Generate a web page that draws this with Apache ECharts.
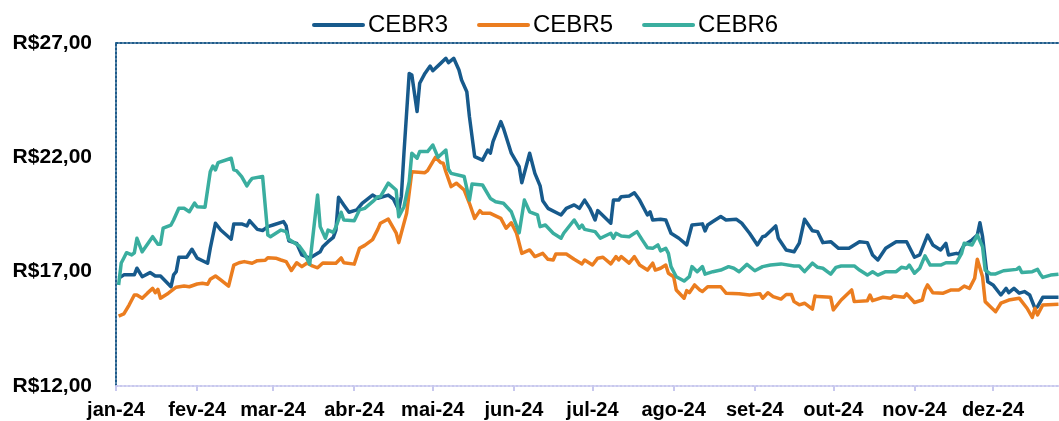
<!DOCTYPE html>
<html>
<head>
<meta charset="utf-8">
<script src="https://cdn.jsdelivr.net/npm/echarts@6/dist/echarts.min.js"></script>
<style>
  html, body { margin: 0; padding: 0; background: #fff; }
  #chart { width: 1059px; height: 421px; }
</style>
</head>
<body>
<div id="chart"></div>
<script>
// dias contados a partir de 1/jan/2024, preco de fechamento (R$)
let seriesNames = ['CEBR3', 'CEBR5', 'CEBR6'];
let monthLabels = ['jan-24','fev-24','mar-24','abr-24','mai-24','jun-24','jul-24','ago-24','set-24','out-24','nov-24','dez-24'];
let yTicks = [12, 17, 22, 27];

let cebr3 = [[1,16.71],[3,16.86],[7,16.86],[8,17.15],[10,16.78],[13,16.96],[15,16.81],[17,16.81],[21,16.34],[22,16.86],[23,17.0],[24,17.63],[27,17.63],[29,17.98],[31,17.59],[35,17.37],[36,18.02],[38,19.12],[40,18.82],[44,18.42],[45,19.09],[48,19.09],[50,19.0],[51,19.23],[54,18.85],[56,18.8],[58,18.97],[60,19.04],[64,19.19],[65,19.0],[66,18.35],[69,18.24],[71,17.73],[74,17.59],[75,17.66],[78,17.87],[79,18.09],[81,18.31],[83,18.5],[84,18.82],[85,20.25],[87,19.92],[89,19.6],[92,19.7],[94,19.99],[98,20.35],[100,20.21],[104,20.35],[106,20.17],[108,19.7],[109,20.3],[110,22.2],[112,25.67],[113,25.6],[115,24.0],[116,25.24],[118,25.67],[120,25.99],[121,25.79],[124,26.11],[126,26.33],[127,26.14],[129,26.33],[131,25.82],[132,25.38],[134,24.87],[135,23.78],[137,22.03],[140,21.88],[142,22.32],[143,22.18],[144,22.69],[147,23.56],[148,23.27],[151,22.18],[154,21.59],[155,20.89],[158,22.18],[160,21.3],[162,20.75],[163,20.1],[165,19.77],[170,19.48],[172,19.77],[175,19.92],[177,19.77],[179,20.13],[181,19.77],[183,19.26],[184,19.67],[189,19.12],[190,20.13],[192,20.13],[193,20.28],[196,20.31],[198,20.45],[200,20.13],[203,19.48],[204,19.62],[205,19.26],[208,19.29],[210,19.26],[212,18.68],[215,18.46],[218,18.17],[220,19.04],[224,19.09],[225,18.78],[226,19.04],[228,19.19],[231,19.41],[233,19.26],[237,19.29],[239,19.12],[242,18.68],[245,18.17],[247,18.53],[248,18.56],[252,19.0],[253,18.46],[256,17.95],[259,17.87],[261,18.25],[263,19.29],[266,18.79],[268,18.75],[270,18.27],[273,18.31],[276,18.02],[280,18.02],[284,18.31],[287,18.27],[289,17.73],[291,17.51],[294,18.02],[298,18.31],[302,18.31],[305,17.63],[307,17.73],[310,18.6],[312,18.17],[315,17.95],[317,18.24],[318,17.73],[321,17.8],[322,17.77],[324,18.17],[327,18.39],[329,18.6],[330,19.14],[331,18.53],[333,16.56],[335,16.42],[338,15.98],[340,16.27],[341,16.08],[343,16.27],[345,16.06],[347,16.13],[349,15.98],[351,15.4],[352,15.47],[354,15.88],[360,15.88]];

let cebr5 = [[1,15.06],[3,15.15],[5,15.54],[7,15.98],[8,15.98],[10,15.84],[12,16.06],[14,16.27],[15,16.08],[16,16.23],[17,15.84],[20,16.06],[23,16.32],[26,16.37],[28,16.34],[31,16.46],[33,16.49],[35,16.45],[36,16.67],[38,16.81],[40,16.64],[43,16.37],[45,17.29],[47,17.39],[49,17.44],[52,17.37],[54,17.48],[57,17.5],[58,17.61],[61,17.59],[63,17.51],[65,17.44],[67,17.05],[69,17.39],[71,17.22],[73,17.38],[75,17.25],[77,17.17],[79,17.38],[84,17.37],[86,17.6],[87,17.39],[91,17.33],[93,18.02],[95,18.15],[98,18.4],[100,18.85],[101,19.12],[104,19.3],[107,18.7],[108,18.27],[111,19.55],[113,21.37],[118,21.33],[119,21.42],[122,22.0],[124,21.77],[125,21.74],[126,21.37],[128,20.72],[130,20.87],[133,20.57],[135,19.99],[137,19.33],[139,19.67],[140,19.55],[143,19.55],[147,19.33],[149,18.9],[151,19.14],[153,18.68],[155,17.8],[158,17.95],[160,17.66],[163,17.8],[165,17.54],[167,17.51],[168,17.77],[172,17.77],[175,17.54],[178,17.34],[179,17.51],[182,17.29],[184,17.59],[186,17.63],[189,17.34],[191,17.66],[192,17.51],[193,17.66],[196,17.37],[198,17.66],[200,17.29],[203,17.07],[205,17.37],[206,17.07],[208,17.15],[210,17.29],[211,16.93],[213,16.78],[214,16.2],[217,15.84],[218,16.17],[219,16.08],[221,16.42],[223,16.2],[224,16.13],[226,16.34],[231,16.34],[233,16.06],[238,16.03],[242,15.98],[246,16.03],[247,15.84],[249,16.08],[251,15.91],[254,15.8],[256,16.0],[258,16.0],[259,15.69],[261,15.55],[263,15.62],[266,15.36],[267,15.94],[268,15.91],[273,15.88],[274,15.33],[277,15.76],[281,16.2],[282,15.69],[287,15.73],[288,15.98],[289,15.73],[293,15.88],[296,15.84],[297,15.94],[301,15.88],[302,16.03],[305,15.65],[308,15.76],[309,16.2],[310,16.42],[312,16.08],[316,16.06],[319,16.2],[322,16.2],[324,16.37],[326,16.27],[328,16.71],[329,17.54],[331,16.78],[332,15.69],[334,15.47],[336,15.25],[338,15.62],[341,15.76],[345,15.84],[348,15.4],[350,15.0],[351,15.4],[352,15.11],[354,15.54],[360,15.57]];

let cebr6 = [[1,16.42],[2,17.38],[3,17.6],[4,17.83],[6,17.73],[7,17.82],[8,18.46],[10,17.87],[14,18.53],[16,18.2],[17,18.2],[18,18.9],[21,19.04],[22,19.26],[24,19.77],[26,19.77],[28,19.62],[30,20.0],[31,19.84],[34,19.82],[36,21.37],[37,21.62],[38,21.45],[39,21.77],[44,21.96],[45,21.45],[46,21.42],[48,21.16],[50,20.75],[51,20.94],[52,21.08],[56,21.16],[58,18.6],[59,18.53],[63,18.82],[65,18.75],[66,18.42],[70,18.12],[72,17.8],[74,17.33],[77,20.35],[78,18.97],[80,18.46],[81,18.82],[83,18.72],[84,18.95],[86,19.6],[87,19.26],[91,19.23],[93,19.7],[95,19.77],[98,20.06],[100,20.28],[101,20.28],[104,20.87],[107,20.57],[108,19.4],[110,19.84],[112,20.94],[113,22.18],[115,21.96],[116,22.25],[119,22.25],[121,22.54],[123,22.0],[126,22.32],[127,21.48],[128,21.3],[133,21.16],[135,20.13],[136,20.83],[140,20.79],[143,20.2],[145,20.06],[148,19.99],[151,19.62],[154,18.7],[156,20.13],[158,19.62],[161,19.48],[162,18.97],[164,19.04],[167,18.68],[170,18.46],[171,18.68],[175,19.26],[177,18.9],[178,19.04],[179,18.85],[183,18.75],[185,18.46],[189,18.68],[190,18.46],[191,18.68],[193,18.56],[196,18.53],[199,18.75],[201,18.39],[203,18.05],[205,18.02],[207,18.17],[208,17.91],[210,18.02],[211,17.8],[212,17.22],[214,16.78],[217,16.59],[219,16.78],[220,17.22],[222,17.0],[224,17.22],[225,16.89],[228,17.0],[231,17.07],[234,17.22],[236,17.15],[238,17.0],[241,17.32],[244,17.04],[247,17.22],[250,17.29],[254,17.34],[259,17.25],[261,17.25],[263,17.0],[266,17.37],[268,17.19],[270,17.15],[273,16.89],[275,17.19],[277,17.25],[282,17.25],[284,17.07],[287,16.85],[289,17.0],[291,16.85],[294,17.0],[298,17.0],[300,17.19],[302,17.15],[303,17.29],[305,16.93],[307,17.15],[309,17.69],[311,17.29],[315,17.29],[317,17.39],[321,17.39],[323,17.8],[324,18.24],[327,18.17],[329,18.6],[331,18.09],[332,17.07],[334,16.9],[336,16.9],[339,17.04],[344,17.1],[345,17.19],[346,16.96],[350,17.0],[352,17.1],[353,16.9],[354,16.75],[357,16.85],[360,16.89]];

let colors = ['#175A8C', '#EB7D1F', '#3AAE9F'];
let font = "'Liberation Sans', Arial, sans-serif";

// inicio de cada mes em dias desde 1/jan
const DAY = 86400000;
let base = new Date(2024, 0, 1).getTime();
let monthStarts = [];
for (let m = 0; m < 12; m++) {
    monthStarts.push(Math.round((new Date(2024, m, 1).getTime() - base) / DAY));
}
let xMax = 360.2;

let myChart = echarts.init(document.getElementById('chart'));
let allData = [cebr3, cebr5, cebr6];

let option = {
    animation: false,
    legend: {
        top: 8,
        left: 307,
        itemWidth: 53,
        itemHeight: 4,
        itemGap: 29,
        icon: 'path://M2,0 L51,0 A2,2 0 0 1 51,4 L2,4 A2,2 0 0 1 2,0 Z',
        data: seriesNames,
        textStyle: { fontSize: 24, fontFamily: font, color: '#000', padding: [0, 0, 0, -2] }
    },
    grid: { left: 116, right: 0, top: 43, bottom: 35 },
    xAxis: [{
        type: 'value',
        min: 0,
        max: xMax,
        axisLine: { show: true, lineStyle: { color: '#C8C8EE', width: 2, type: 'dotted' } },
        axisTick: { show: true, length: 5, customValues: monthStarts, lineStyle: { color: '#C8C8EE', width: 2 } },
        axisLabel: {
            customValues: monthStarts,
            margin: 14,
            fontSize: 20,
            fontWeight: 'bold',
            fontFamily: font,
            color: '#000',
            formatter: function (val) {
                let i = monthStarts.indexOf(Math.round(val));
                return i >= 0 ? monthLabels[i] : '';
            }
        },
        splitLine: { show: false }
    }, {
        // borda superior pontilhada
        type: 'value',
        position: 'top',
        min: 0,
        max: xMax,
        axisLine: { show: true, lineStyle: { color: '#1F5C8B', width: 2, type: 'dotted' } },
        axisTick: { show: false },
        axisLabel: { show: false },
        splitLine: { show: false }
    }],
    yAxis: {
        type: 'value',
        min: yTicks[0],
        max: yTicks[yTicks.length - 1],
        interval: 5,
        axisLine: { show: true, lineStyle: { color: '#1F5C8B', width: 2, type: 'dotted' } },
        axisTick: { show: false },
        splitLine: { show: false },
        axisLabel: {
            margin: 24,
            fontSize: 21,
            fontWeight: 'bold',
            fontFamily: font,
            color: '#000',
            formatter: function (v) { return 'R$' + v.toFixed(2).replace('.', ','); }
        }
    },
    series: seriesNames.map(function (name, i) {
        return {
            name: name,
            type: 'line',
            symbol: 'none',
            data: allData[i],
            lineStyle: { width: 3.5, color: colors[i], join: 'round' },
            itemStyle: { color: colors[i] }
        };
    })
};
myChart.setOption(option);
</script>
</body>
</html>
